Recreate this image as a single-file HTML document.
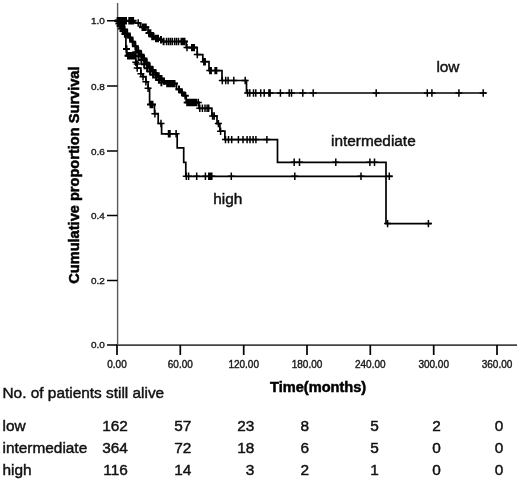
<!DOCTYPE html>
<html><head><meta charset="utf-8"><style>
html,body{margin:0;padding:0;background:#fff;}
body{width:520px;height:483px;overflow:hidden;position:relative;}
svg{position:absolute;left:0;top:0;-webkit-font-smoothing:antialiased;will-change:transform;}
.tk{font-family:"Liberation Sans",sans-serif;font-size:10px;fill:#1a1a1a;stroke:#1a1a1a;stroke-width:0.4px;}
.lb{font-family:"Liberation Sans",sans-serif;font-size:15.4px;fill:#111;stroke:#111;stroke-width:0.45px;}
.bd{font-family:"Liberation Sans",sans-serif;font-size:14.6px;font-weight:bold;fill:#000;stroke:#000;stroke-width:0.5px;}
</style></head><body>
<svg width="520" height="483" viewBox="0 0 520 483">
<path d="M117.6,3V345" stroke="#5a5a5a" stroke-width="1.4" fill="none"/>
<path d="M116,345.1H517" stroke="#444" stroke-width="1.9" fill="none"/>
<path d="M107,280.4H117.5M107,215.4H117.5M107,151.1H117.5M107,86.1H117.5M107,20.8H117.5M107,345.1H117" stroke="#000" stroke-width="1.5" fill="none"/>
<path d="M117.0,345V355M180.3,345V355M243.7,345V355M307.0,345V355M370.3,345V355M433.7,345V355M497.0,345V355" stroke="#000" stroke-width="1.7" fill="none"/>
<path d="M117.0,20.8H134.5V23.0H140.3V27.2H148.0V33.0H151.2V36.5H154.5V38.5H159.5V39.8H162.5V41.5H186.3V47.6H197.2V54.6H202.8V61.7H209.0V70.6H222.0V80.5H246.5V93.0H486.5" fill="none" stroke="#000" stroke-width="1.7"/>
<path d="M118.3,17.1V24.5M114.8,20.8H121.8M119.6,17.1V24.5M116.1,20.8H123.1M120.9,17.1V24.5M117.4,20.8H124.4M122.2,17.1V24.5M118.7,20.8H125.7M123.5,17.1V24.5M120.0,20.8H127.0M124.8,17.1V24.5M121.3,20.8H128.3M126.0,17.1V24.5M122.5,20.8H129.5M129.3,17.1V24.5M125.8,20.8H132.8M130.6,17.1V24.5M127.1,20.8H134.1M131.9,17.1V24.5M128.4,20.8H135.4M133.1,17.1V24.5M129.6,20.8H136.6M142.5,23.5V30.9M139.0,27.2H146.0M143.6,23.5V30.9M140.1,27.2H147.1M144.7,23.5V30.9M141.2,27.2H148.2M145.8,23.5V30.9M142.3,27.2H149.3M149.0,29.3V36.7M145.5,33.0H152.5M150.4,29.3V36.7M146.9,33.0H153.9M152.2,32.8V40.2M148.7,36.5H155.7M153.6,32.8V40.2M150.1,36.5H157.1M156.0,34.8V42.2M152.5,38.5H159.5M158.0,34.8V42.2M154.5,38.5H161.5M161.0,36.1V43.5M157.5,39.8H164.5M163.6,37.8V45.2M160.1,41.5H167.1M181.5,37.8V45.2M178.0,41.5H185.0M183.0,37.8V45.2M179.5,41.5H186.5M184.5,37.8V45.2M181.0,41.5H188.0M192.0,43.9V51.3M188.5,47.6H195.5M194.0,43.9V51.3M190.5,47.6H197.5" fill="none" stroke="#000" stroke-width="2.0"/>
<path d="M138.2,19.3V26.7M134.7,23.0H141.7M166.5,37.8V45.2M163.0,41.5H170.0M168.5,37.8V45.2M165.0,41.5H172.0M170.4,37.8V45.2M166.9,41.5H173.9M172.3,37.8V45.2M168.8,41.5H175.8M174.6,37.8V45.2M171.1,41.5H178.1M176.5,37.8V45.2M173.0,41.5H180.0M178.5,37.8V45.2M175.0,41.5H182.0M187.0,43.9V51.3M183.5,47.6H190.5M197.3,50.9V58.3M193.8,54.6H200.8M203.8,58.0V65.4M200.3,61.7H207.3M205.2,58.0V65.4M201.7,61.7H208.7M209.8,66.9V74.3M206.3,70.6H213.3M211.2,66.9V74.3M207.7,70.6H214.7M215.1,66.9V74.3M211.6,70.6H218.6M216.6,66.9V74.3M213.1,70.6H220.1M222.3,76.8V84.2M218.8,80.5H225.8M225.7,76.8V84.2M222.2,80.5H229.2M228.1,76.8V84.2M224.6,80.5H231.6M233.8,76.8V84.2M230.3,80.5H237.3M245.2,76.8V84.2M241.7,80.5H248.7M247.6,89.3V96.7M244.1,93.0H251.1M249.8,89.3V96.7M246.3,93.0H253.3M253.5,89.3V96.7M250.0,93.0H257.0M255.8,89.3V96.7M252.3,93.0H259.3M260.7,89.3V96.7M257.2,93.0H264.2M264.2,89.3V96.7M260.7,93.0H267.7M268.9,89.3V96.7M265.4,93.0H272.4M270.1,89.3V96.7M266.6,93.0H273.6M280.4,89.3V96.7M276.9,93.0H283.9M289.2,89.3V96.7M285.7,93.0H292.7M291.5,89.3V96.7M288.0,93.0H295.0M302.8,89.3V96.7M299.3,93.0H306.3M313.2,89.3V96.7M309.7,93.0H316.7M376.2,89.3V96.7M372.7,93.0H379.7M427.3,89.3V96.7M423.8,93.0H430.8M431.9,89.3V96.7M428.4,93.0H435.4M458.9,89.3V96.7M455.4,93.0H462.4M483.2,89.3V96.7M479.7,93.0H486.7" fill="none" stroke="#000" stroke-width="1.5"/>
<path d="M117.0,20.8H120.1V25.1H123.2V29.5H125.9V33.6H128.6V37.6H131.3V41.7H134.1V46.2H136.8V50.8H139.7V54.7H142.6V58.6H145.4V62.7H148.2V66.8H151.2V70.0H154.2V73.2H157.2V75.9H160.2V78.6H162.8V81.1H165.3V83.6H176.5V89.3H180.5V92.5H183.8V95.7H186.2V102.5H199.0V108.3H211.9V116.0H217.0V123.6H219.9V131.2H224.9V139.6H277.5V162.3H386.0V223.6H431.5" fill="none" stroke="#000" stroke-width="1.7"/>
<path d="M118.5,17.1V24.5M115.0,20.8H122.0M121.7,21.4V28.8M118.2,25.1H125.2M124.6,25.8V33.2M121.1,29.5H128.1M127.2,29.9V37.3M123.8,33.6H130.8M130.0,33.9V41.3M126.5,37.6H133.5M132.7,38.0V45.4M129.2,41.7H136.2M135.4,42.5V50.0M131.9,46.2H138.9M138.2,47.1V54.5M134.8,50.8H141.8M141.2,51.0V58.4M137.7,54.7H144.7M144.0,54.9V62.3M140.5,58.6H147.5M146.8,59.0V66.4M143.3,62.7H150.3M149.7,63.1V70.5M146.2,66.8H153.2M152.7,66.3V73.7M149.2,70.0H156.2M155.7,69.5V76.9M152.2,73.2H159.2M158.7,72.2V79.6M155.2,75.9H162.2M161.5,74.9V82.3M158.0,78.6H165.0M164.0,77.4V84.8M160.5,81.1H167.5M135.7,48.6V56.0M132.2,52.3H139.2M138.6,52.5V59.9M135.1,56.2H142.1M141.4,56.4V63.8M137.9,60.1H144.9M144.2,60.5V67.9M140.7,64.2H147.7M147.1,64.6V72.0M143.6,68.3H150.6M150.1,67.8V75.2M146.6,71.5H153.6M153.1,71.0V78.4M149.6,74.7H156.6M156.1,73.7V81.1M152.6,77.4H159.6M158.9,76.4V83.8M155.4,80.1H162.4M161.4,78.9V86.3M157.9,82.6H164.9M167.2,79.9V87.3M163.7,83.6H170.7M168.7,79.9V87.3M165.2,83.6H172.2M170.2,79.9V87.3M166.7,83.6H173.7M171.7,79.9V87.3M168.2,83.6H175.2M173.2,79.9V87.3M169.7,83.6H176.7M174.5,79.9V87.3M171.0,83.6H178.0M179.0,85.6V93.0M175.5,89.3H182.5M182.0,88.8V96.2M178.5,92.5H185.5M185.3,92.0V99.4M181.8,95.7H188.8M187.2,98.8V106.2M183.7,102.5H190.7M188.7,98.8V106.2M185.2,102.5H192.2M190.2,98.8V106.2M186.7,102.5H193.7M191.7,98.8V106.2M188.2,102.5H195.2M193.2,98.8V106.2M189.7,102.5H196.7M194.7,98.8V106.2M191.2,102.5H198.2M196.2,98.8V106.2M192.7,102.5H199.7" fill="none" stroke="#000" stroke-width="2.0"/>
<path d="M198.3,98.8V106.2M194.8,102.5H201.8M199.8,104.6V112.0M196.3,108.3H203.3M202.4,104.6V112.0M198.9,108.3H205.9M205.0,104.6V112.0M201.5,108.3H208.5M207.1,104.6V112.0M203.6,108.3H210.6M208.7,104.6V112.0M205.2,108.3H212.2M212.6,112.3V119.7M209.1,116.0H216.1M214.2,112.3V119.7M210.7,116.0H217.7M218.4,119.9V127.3M214.9,123.6H221.9M220.6,127.5V134.9M217.1,131.2H224.1M225.5,135.9V143.3M222.0,139.6H229.0M228.5,135.9V143.3M225.0,139.6H232.0M231.7,135.9V143.3M228.2,139.6H235.2M238.4,135.9V143.3M234.9,139.6H241.9M243.0,135.9V143.3M239.5,139.6H246.5M247.1,135.9V143.3M243.6,139.6H250.6M250.0,135.9V143.3M246.5,139.6H253.5M253.1,135.9V143.3M249.6,139.6H256.6M255.9,135.9V143.3M252.4,139.6H259.4M266.9,135.9V143.3M263.4,139.6H270.4M294.2,158.6V166.0M290.7,162.3H297.7M299.5,158.6V166.0M296.0,162.3H303.0M335.8,158.6V166.0M332.3,162.3H339.3M369.9,158.6V166.0M366.4,162.3H373.4M374.5,158.6V166.0M371.0,162.3H378.0M387.6,219.9V227.3M384.1,223.6H391.1M428.4,219.9V227.3M424.9,223.6H431.9" fill="none" stroke="#000" stroke-width="1.5"/>
<path d="M117.0,20.8H118.2V23.4H119.5V26.0H120.8V28.5H122.0V31.0H124.0V34.1H125.9V37.2H125.9V49.0H126.6V55.8H135.8V62.2H137.2V68.0H140.9V73.8H143.0V76.7H145.9V81.8H148.1V88.3H149.6V104.5H154.5V113.7H158.2V123.5H161.6V133.8H177.2V147.9H183.7V162.4H185.8V176.3H392.5" fill="none" stroke="#000" stroke-width="1.7"/>
<path d="M117.6,17.1V24.5M114.1,20.8H121.1M118.9,19.7V27.1M115.4,23.4H122.4M120.1,22.3V29.7M116.6,26.0H123.6M121.4,24.8V32.2M117.9,28.5H124.9M123.0,27.3V34.7M119.5,31.0H126.5M124.9,30.4V37.8M121.4,34.1H128.4M126.5,45.3V52.7M123.0,49.0H130.0M128.0,52.1V59.5M124.5,55.8H131.5M129.5,52.1V59.5M126.0,55.8H133.0M131.0,52.1V59.5M127.5,55.8H134.5M132.5,52.1V59.5M129.0,55.8H136.0M134.0,52.1V59.5M130.5,55.8H137.5M150.5,100.8V108.2M147.0,104.5H154.0M152.5,100.8V108.2M149.0,104.5H156.0" fill="none" stroke="#000" stroke-width="2.0"/>
<path d="M135.8,58.5V65.9M132.3,62.2H139.3M137.2,60.3V67.7M133.7,64.0H140.7M137.2,64.3V71.7M133.7,68.0H140.7M140.9,70.1V77.5M137.4,73.8H144.4M143.0,73.0V80.4M139.5,76.7H146.5M145.9,78.1V85.5M142.4,81.8H149.4M148.1,84.6V92.0M144.6,88.3H151.6M154.9,110.0V117.4M151.4,113.7H158.4M161.0,119.8V127.2M157.5,123.5H164.5M168.5,130.1V137.5M165.0,133.8H172.0M170.0,130.1V137.5M166.5,133.8H173.5M176.1,130.1V137.5M172.6,133.8H179.6M186.3,172.6V180.0M182.8,176.3H189.8M188.6,172.6V180.0M185.1,176.3H192.1M196.7,172.6V180.0M193.2,176.3H200.2M205.4,172.6V180.0M201.9,176.3H208.9M208.8,172.6V180.0M205.3,176.3H212.3M210.3,172.6V180.0M206.8,176.3H213.8M211.8,172.6V180.0M208.3,176.3H215.3M231.3,172.6V180.0M227.8,176.3H234.8M294.8,172.6V180.0M291.3,176.3H298.3M361.0,172.6V180.0M357.5,176.3H364.5M389.3,172.6V180.0M385.8,176.3H392.8" fill="none" stroke="#000" stroke-width="1.5"/>
<text transform="translate(104.8,348.4) scale(1,0.9)" text-anchor="end" class="tk">0.0</text>
<text transform="translate(104.8,283.8) scale(1,0.9)" text-anchor="end" class="tk">0.2</text>
<text transform="translate(104.8,218.8) scale(1,0.9)" text-anchor="end" class="tk">0.4</text>
<text transform="translate(104.8,154.5) scale(1,0.9)" text-anchor="end" class="tk">0.6</text>
<text transform="translate(104.8,89.5) scale(1,0.9)" text-anchor="end" class="tk">0.8</text>
<text transform="translate(104.8,24.2) scale(1,0.9)" text-anchor="end" class="tk">1.0</text>
<text x="117.0" y="368" text-anchor="middle" class="tk">0.00</text>
<text x="180.3" y="368" text-anchor="middle" class="tk">60.00</text>
<text x="243.7" y="368" text-anchor="middle" class="tk">120.00</text>
<text x="307.0" y="368" text-anchor="middle" class="tk">180.00</text>
<text x="370.3" y="368" text-anchor="middle" class="tk">240.00</text>
<text x="433.7" y="368" text-anchor="middle" class="tk">300.00</text>
<text x="497.0" y="368" text-anchor="middle" class="tk">360.00</text>
<text class="bd" transform="translate(79,283.8) rotate(-90)">Cumulative proportion Survival</text>
<text class="bd" x="270" y="392">Time(months)</text>
<text class="lb" x="436.4" y="72">low</text>
<text class="lb" x="331" y="145.8">intermediate</text>
<text class="lb" x="213.2" y="203.6">high</text>
<text class="lb" x="2.5" y="397.5">No. of patients still alive</text>
<text class="lb" x="2.5" y="430.8">low</text>
<text class="lb" x="2.5" y="452.8">intermediate</text>
<text class="lb" x="2.5" y="475.2">high</text>
<text class="lb" x="127.9" y="430.8" text-anchor="end">162</text>
<text class="lb" x="191.3" y="430.8" text-anchor="end">57</text>
<text class="lb" x="254.4" y="430.8" text-anchor="end">23</text>
<text class="lb" x="309.0" y="430.8" text-anchor="end">8</text>
<text class="lb" x="378.9" y="430.8" text-anchor="end">5</text>
<text class="lb" x="440.8" y="430.8" text-anchor="end">2</text>
<text class="lb" x="503.2" y="430.8" text-anchor="end">0</text>
<text class="lb" x="127.9" y="452.8" text-anchor="end">364</text>
<text class="lb" x="191.3" y="452.8" text-anchor="end">72</text>
<text class="lb" x="254.4" y="452.8" text-anchor="end">18</text>
<text class="lb" x="309.0" y="452.8" text-anchor="end">6</text>
<text class="lb" x="378.9" y="452.8" text-anchor="end">5</text>
<text class="lb" x="440.8" y="452.8" text-anchor="end">0</text>
<text class="lb" x="503.2" y="452.8" text-anchor="end">0</text>
<text class="lb" x="127.9" y="475.2" text-anchor="end">116</text>
<text class="lb" x="191.3" y="475.2" text-anchor="end">14</text>
<text class="lb" x="254.4" y="475.2" text-anchor="end">3</text>
<text class="lb" x="309.0" y="475.2" text-anchor="end">2</text>
<text class="lb" x="378.9" y="475.2" text-anchor="end">1</text>
<text class="lb" x="440.8" y="475.2" text-anchor="end">0</text>
<text class="lb" x="503.2" y="475.2" text-anchor="end">0</text>
</svg>
</body></html>
